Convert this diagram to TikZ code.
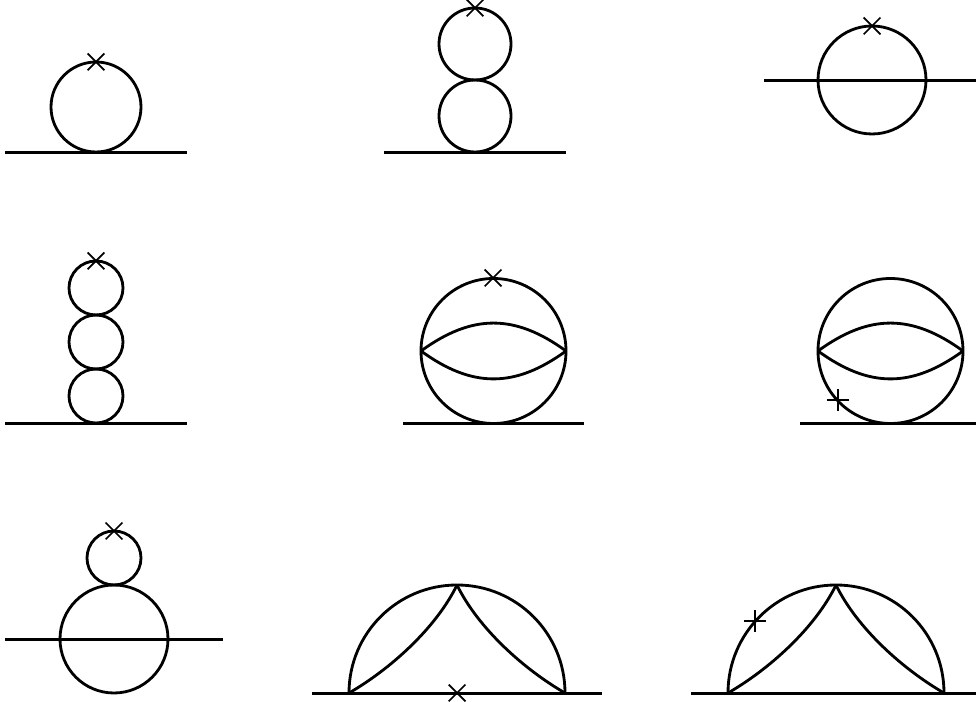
\documentclass[tikz,border=0pt]{standalone}
\usetikzlibrary{shapes.misc}

\begin{document}
\begin{tikzpicture}[x=0.02cm, y=0.02cm,
    prop/.style={line width=1.6pt},
    leg/.style={line width=1.7pt},
    xmark/.style={cross out, draw, line width=1pt, inner sep=0pt, minimum size=0.3cm},
    pmark/.style={xmark, rotate=45, minimum size=0.27cm},
    lens/.style={prop, looseness=1.12},
    wingl/.style={prop, out=30, in=-116, looseness=0.8},
    wingr/.style={prop, out=150, in=-64, looseness=0.8}]
  \useasboundingbox (0,0) rectangle (976,702);
  % Top row
  \draw[leg] (5,549.5) -- (187,549.5);
  \draw[prop] (96,595) circle (45);
  \node[xmark] (X1) at (96,640) {};
  \draw[leg] (384,549.5) -- (566,549.5);
  \draw[prop] (475,586) circle (36);
  \draw[prop] (475,658) circle (36);
  \node[xmark] (X2) at (475,694) {};
  \draw[leg] (764,621.5) -- (976,621.5);
  \draw[prop] (872,622) circle (54);
  \node[xmark] (X3) at (872,676) {};
  % Middle row
  \draw[leg] (5,278.5) -- (187,278.5);
  \foreach \y in {306,360,414}
    \draw[prop] (96,\y) circle (27);
  \node[xmark] (X4) at (96,441) {};
  \coordinate (L1) at (421,351);
  \coordinate (R1) at (566,351);
  \draw[leg] (403,278.5) -- (584,278.5);
  \draw[prop] (493.5,351) circle (72.5);
  \draw[lens] (L1) to[bend left=36] (R1);
  \draw[lens] (L1) to[bend right=36] (R1);
  \node[xmark] (X5) at (493,424) {};
  \coordinate (L2) at (818,351);
  \coordinate (R2) at (963,351);
  \draw[leg] (800,278.5) -- (976,278.5);
  \draw[prop] (890.5,351) circle (72.5);
  \draw[lens] (L2) to[bend left=36] (R2);
  \draw[lens] (L2) to[bend right=36] (R2);
  \node[pmark] (P1) at (838,302) {};
  % Bottom row
  \draw[leg] (5,62.5) -- (223,62.5);
  \draw[prop] (114,63) circle (54);
  \draw[prop] (114,144) circle (27);
  \node[xmark] (X6) at (114,171) {};
  \coordinate (A1) at (349,9);
  \coordinate (B1) at (457,117);
  \coordinate (C1) at (565,9);
  \draw[leg] (312,8.5) -- (602,8.5);
  \draw[prop] (A1) arc[start angle=180, end angle=0, radius=108];
  \draw[wingl] (A1) to (B1);
  \draw[wingr] (C1) to (B1);
  \node[xmark] (X7) at (457,9) {};
  \coordinate (A2) at (728,9);
  \coordinate (B2) at (836,117);
  \coordinate (C2) at (944,9);
  \draw[leg] (691,8.5) -- (976,8.5);
  \draw[prop] (A2) arc[start angle=180, end angle=0, radius=108];
  \draw[wingl] (A2) to (B2);
  \draw[wingr] (C2) to (B2);
  \node[pmark] (P2) at (755,81) {};
\end{tikzpicture}
\end{document}
